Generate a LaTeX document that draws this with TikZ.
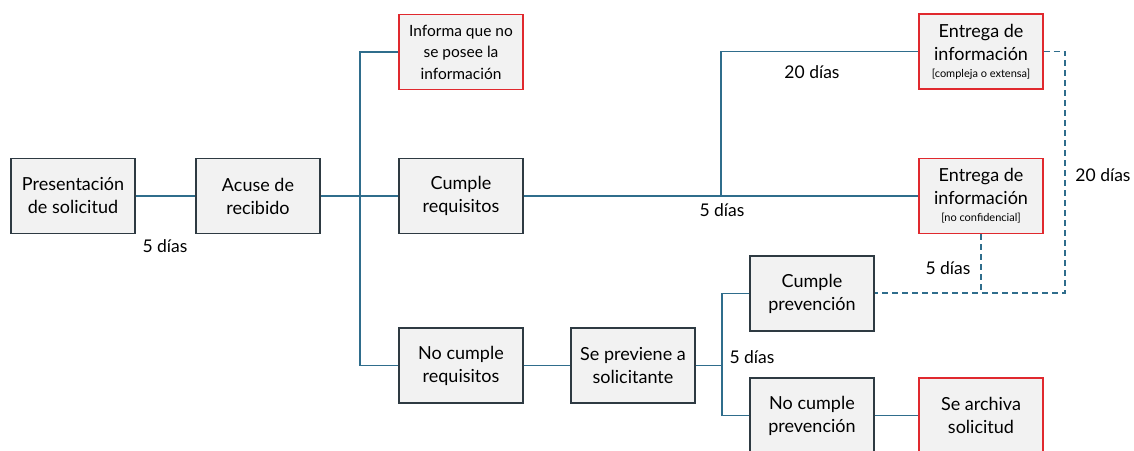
\documentclass[tikz,border=0pt]{standalone}
\usepackage{fontspec}
\setmainfont{Lato}
\usetikzlibrary{positioning}

\definecolor{linea}{HTML}{2F6D8C}
\definecolor{borde}{HTML}{2E3A42}
\definecolor{rojo}{HTML}{E0292E}
\definecolor{relleno}{HTML}{F2F2F2}

\tikzset{
  caja/.style={draw=borde,fill=relleno,line width=1.4pt,minimum width=124pt,minimum height=75pt,
    inner sep=0pt,align=center,font=\fontsize{18}{23}\selectfont},
  cajaroja/.style={caja,draw=rojo},
  conector/.style={draw=linea,line width=1.6pt},
  etiqueta/.style={font=\fontsize{17.5}{20}\selectfont,inner sep=0pt}
}

\begin{document}
\begin{tikzpicture}[line cap=butt,line join=miter,x=1pt,y=-1pt]
\useasboundingbox (0,0) rectangle (1134,450);
\clip (0,0) rectangle (1134,450);
% cajas
\node[caja] (pres) at (73,196) {Presentación\\de solicitud};
\node[caja] (acuse) at (258,196) {Acuse de\\recibido};
\node[cajaroja,font=\fontsize{15.5}{21.5}\selectfont] (informa) at (461,52) {Informa que no\\se posee la\\información};
\node[caja] (cumplereq) at (461,196) {Cumple\\requisitos};
\node[caja] (nocumplereq) at (461,365.5) {No cumple\\requisitos};
\node[caja] (previene) at (633,365.5) {Se previene a\\solicitante};
\node[cajaroja] (entrega1) at (981,51.5) {Entrega de\\información\\[-6pt]{\fontsize{11}{13}\selectfont [compleja o extensa]}};
\node[cajaroja] (entrega2) at (981,196) {Entrega de\\información\\[-6pt]{\fontsize{11}{13}\selectfont [no confidencial]}};
\node[caja] (cumpleprev) at (812,293.5) {Cumple\\prevención};
\node[caja] (nocumpleprev) at (812,415.5) {No cumple\\prevención};
\node[cajaroja] (archiva) at (981,415.5) {Se archiva\\solicitud};
% puntos de bifurcacion
\coordinate (bif1) at (360,196);
\coordinate (bif2) at (721,196);
\coordinate (bif3) at (722,365.5);
\coordinate (esq) at (1065,293);
% conectores
\draw[conector] (pres) -- (acuse);
\draw[conector] (acuse.east) -- (cumplereq.west);
\draw[conector] (informa.west) -| (bif1) |- (nocumplereq.west);
\draw[conector] (cumplereq.east) -- (entrega2.west);
\draw[conector] (bif2) |- (entrega1.west);
\draw[conector] (nocumplereq) -- (previene);
\draw[conector] (previene.east) -- (bif3);
\draw[conector] (cumpleprev.west) -| (bif3) |- (nocumpleprev.west);
\draw[conector] (nocumpleprev) -- (archiva);
\draw[conector,dash pattern=on 6pt off 4pt] (entrega1.east) -| (esq) -- (cumpleprev.east |- esq);
\draw[conector,dash pattern=on 6pt off 4pt] (entrega2.south) -- (entrega2.south |- esq);
% etiquetas
\node[etiqueta] (t1) at (165,246) {5 días};
\node[etiqueta] (t2) at (722,210) {5 días};
\node[etiqueta] (t3) at (812,72) {20 días};
\node[etiqueta] (t4) at (948,268) {5 días};
\node[etiqueta] (t5) at (1103,175) {20 días};
\node[etiqueta] (t6) at (752,357) {5 días};
\end{tikzpicture}
\end{document}
